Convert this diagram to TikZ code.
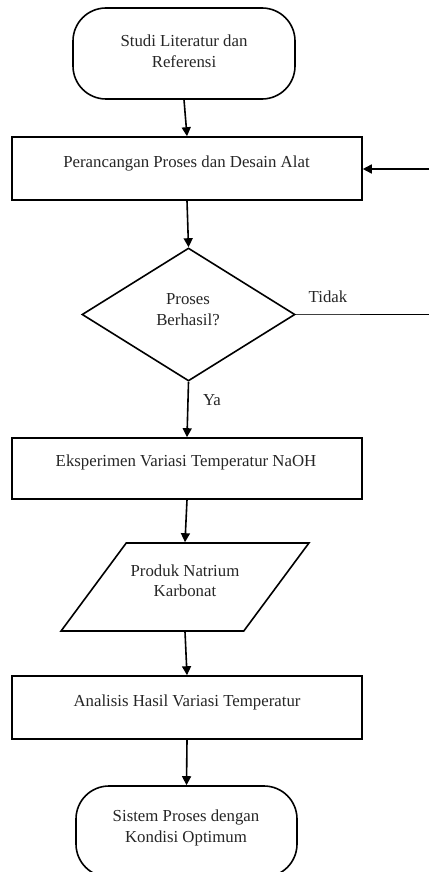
\documentclass[tikz,border=0pt]{standalone}
\usepackage{fontspec}
\setmainfont{Liberation Serif}
\usetikzlibrary{shapes.geometric,arrows.meta}
\begin{document}
\begin{tikzpicture}[x=1pt,y=-1pt,
  every node/.style={font=\fontsize{16.8}{20.5}\selectfont},
  lbl/.style={inner sep=0pt,align=center,text=black!85},
  shp/.style={draw=black,line width=1.6pt,inner sep=0pt},
  termbox/.style={shp,rectangle,rounded corners=33pt,minimum width=222pt,minimum height=91pt},
  procbox/.style={shp,rectangle,minimum width=350pt},
  decbox/.style={shp,diamond,minimum width=213pt,minimum height=133pt},
  iobox/.style={shp,trapezium,trapezium left angle=61,trapezium right angle=119,
     trapezium stretches=true,minimum width=248pt,minimum height=88pt},
  flow/.style={line width=1.6pt,-{Triangle[length=9pt,width=9pt]}},
  thinline/.style={line width=0.8pt,draw=black!75},
  thickline/.style={line width=1.6pt}]
\useasboundingbox (0,0) rectangle (429,872);
\fill[white] (0,0) rectangle (429,872);
\clip (0,0) rectangle (429,872);

% shapes
\node[termbox] (t1) at (184,53.5) {};
\node[procbox,minimum height=63pt] (r1) at (187,168.5) {};
\node[decbox] (d) at (188.5,314.5) {};
\node[procbox,minimum height=61pt] (r2) at (187,468.5) {};
\node[iobox] (p) at (185,587) {\phantom{\rule{20pt}{20pt}}};
\node[procbox,minimum height=63pt] (r3) at (187,707.5) {};
\node[termbox,minimum width=221pt] (t2) at (186.5,831.5) {};

% texts
\node[lbl] (t1l) at (184,51.5) {Studi Literatur dan\\Referensi};
\node[lbl] (r1l) at (186.5,163) {Perancangan Proses dan Desain Alat};
\node[lbl] (dl) at (188,309.5) {Proses\\Berhasil?};
\node[lbl] (r2l) at (186,462) {Eksperimen Variasi Temperatur NaOH};
\node[lbl] (pl) at (185,580.5) {Produk Natrium\\Karbonat};
\node[lbl] (r3l) at (187,702) {Analisis Hasil Variasi Temperatur};
\node[lbl] (t2l) at (186,828) {Sistem Proses dengan\\Kondisi Optimum};
\node[lbl] (tidak) at (328,297) {Tidak};
\node[lbl] (ya) at (212,400) {Ya};

% connectors
\draw[flow] (t1.south) -- (r1.north);
\draw[flow] (r1.south) -- (d.north);
\draw[flow] (d.south) -- (r2.north);
\draw[flow] (r2.south) -- (p.north);
\draw[flow] (p.south) -- (r3.north);
\draw[flow] (r3.south) -- (t2.north);

% feedback loop (runs off the right edge)
\coordinate (tmid) at (360,314.5);
\coordinate (tend) at (429,314.5);
\coordinate (fbin) at (429,169);
\draw[thinline] (d.east) -- (tmid);
\draw[thickline] (tmid) -- (tend);
\draw[flow] (fbin) -- (fbin -| r1.east);
\end{tikzpicture}
\end{document}
